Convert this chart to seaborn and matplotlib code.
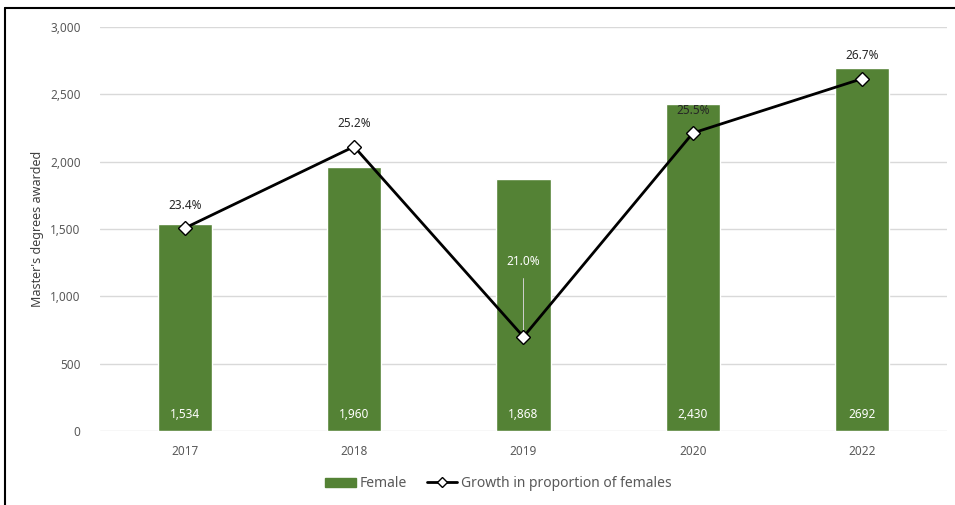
import numpy as np
import pandas as pd
import matplotlib
matplotlib.use("Agg")
import matplotlib.pyplot as plt
from matplotlib.lines import Line2D
from matplotlib.patches import Patch
import seaborn as sns

# ── data ─────────────────────────────────────────────
years = ["2017", "2018", "2019", "2020", "2022"]
female = [1534, 1960, 1868, 2430, 2692]
female_labels = ["1,534", "1,960", "1,868", "2,430", "2692"]
pct_female = [23.4, 25.2, 21.0, 25.5, 26.7]

GREEN = "#548235"; TXT = "#595959"; GRID = "#d9d9d9"

sns.set_style("white")
plt.rcParams["font.family"] = ["Noto Sans", "DejaVu Sans"]

df = pd.DataFrame({"year": years, "female": female})

fig = plt.figure(figsize=(9.55, 5.05), dpi=100)
ax = fig.add_axes([0.1047, 0.1465, 0.8869, 0.80])

sns.barplot(data=df, x="year", y="female", order=years, color=GREEN,
            saturation=1, width=0.32, ax=ax, zorder=2)
ax.set_xlim(-0.5, len(years) - 0.5)
ax.set_ylim(0, 3000)
ax.set_yticks(np.arange(0, 3001, 500))
ax.set_yticklabels([f"{v:,}" for v in range(0, 3001, 500)])
ax.yaxis.grid(True, color=GRID, lw=1, zorder=0)
ax.set_axisbelow(True)
for s in ax.spines.values():
    s.set_visible(False)
ax.tick_params(axis="both", length=0, colors=TXT, labelsize=8.5)
ax.tick_params(axis="y", pad=14)
ax.tick_params(axis="x", pad=10)
ax.set_xlabel("")
ax.set_ylabel("Master's degrees awarded", color="#404040", fontsize=9, labelpad=4)

# bar value labels
for i, lab in enumerate(female_labels):
    ax.text(i, 125, lab, ha="center", va="center", color="white", fontsize=8.5, zorder=5)

# secondary (hidden) axis for the proportion line
ax2 = ax.twinx()
sns.lineplot(x=np.arange(len(years)), y=pct_female, ax=ax2, color="black", lw=2,
             marker="D", markersize=7.5, markerfacecolor="white",
             markeredgecolor="black", markeredgewidth=1, zorder=4)
ax2.set_ylim(18.92, 27.84)
ax2.set_xlim(-0.5, len(years) - 0.5)
ax2.axis("off")

for i, p in enumerate(pct_female):
    if years[i] == "2019":
        ax2.annotate(f"{p:.1f}%", (i, p), xytext=(0, 54), textcoords="offset points",
                     ha="center", va="center", color="white", fontsize=8.5,
                     arrowprops=dict(arrowstyle="-", color="#d0d0d0", lw=0.7,
                                     shrinkA=5, shrinkB=4))
    else:
        ax2.annotate(f"{p:.1f}%", (i, p), xytext=(0, 16.5), textcoords="offset points",
                     ha="center", va="center", color="#262626", fontsize=8.5)

# legend
handles = [Patch(color=GREEN, label="Female"),
           Line2D([0], [0], color="black", lw=2, marker="D", markersize=5,
                  markerfacecolor="white", markeredgecolor="black",
                  label="Growth in proportion of females")]
fig.legend(handles=handles, loc="center", bbox_to_anchor=(0.522, 0.042), ncol=2,
           frameon=False, fontsize=10, labelcolor=TXT, handlelength=2.2,
           handletextpad=0.3, columnspacing=1.4)

# outer border (top and left visible)
fig.add_artist(Line2D([5 / 955, 1], [1 - 8 / 505, 1 - 8 / 505], color="black", lw=1.5,
                      transform=fig.transFigure))
fig.add_artist(Line2D([5 / 955, 5 / 955], [0, 1 - 8 / 505], color="black", lw=1.5,
                      transform=fig.transFigure))

fig.savefig("out.png", dpi=100)
